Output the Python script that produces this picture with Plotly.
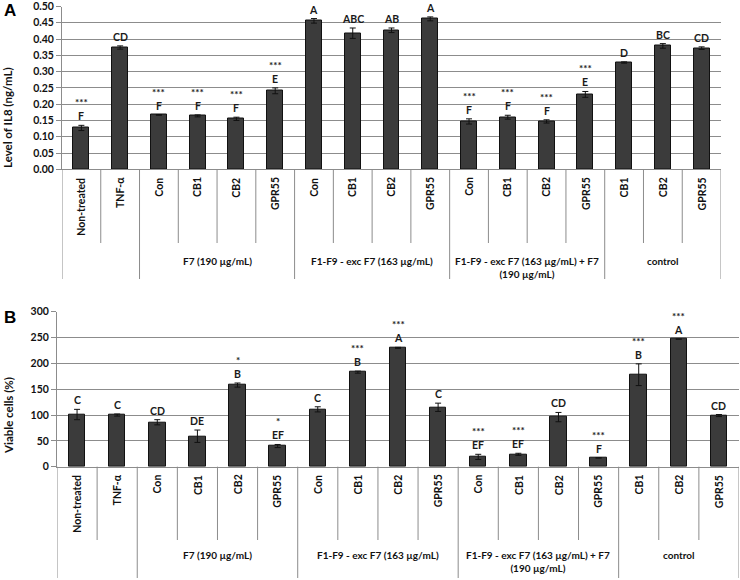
import plotly.graph_objects as go

# categories along both x axes
categories = ["Non-treated", "TNF-α", "Con", "CB1", "CB2", "GPR55",
              "Con", "CB1", "CB2", "GPR55", "Con", "CB1", "CB2", "GPR55",
              "CB1", "CB2", "GPR55"]

group_labels = ["", "F7 (190 µg/mL)", "F1-F9 - exc F7 (163 µg/mL)",
                "F1-F9 - exc F7 (163 µg/mL) + F7<br>(190 µg/mL)", "control"]
group_start  = [0, 2, 6, 10, 14]
group_end    = [1, 5, 9, 13, 16]

# panel A : IL8
il8_mean    = [0.127, 0.374, 0.167, 0.164, 0.155, 0.241, 0.456, 0.418, 0.427, 0.462,
               0.147, 0.160, 0.147, 0.230, 0.328, 0.379, 0.372]
il8_err     = [0.008, 0.005, 0.001, 0.003, 0.005, 0.009, 0.007, 0.016, 0.007, 0.006,
               0.008, 0.006, 0.005, 0.009, 0.002, 0.007, 0.004]
il8_letters = ["F", "CD", "F", "F", "F", "E", "A", "ABC", "AB", "A",
               "F", "F", "F", "E", "D", "BC", "CD"]
il8_stars   = ["***", "", "***", "***", "***", "***", "", "", "", "",
               "***", "***", "***", "***", "", "", ""]

# panel B : viability
via_mean    = [101, 100, 86, 59, 158, 40, 111, 183, 230, 115,
               19, 24, 96, 17, 178, 247, 99]
via_err     = [10, 2, 5, 12, 4, 3, 5, 2, 1, 8,
               5, 2, 9, 0, 21, 0, 2]
via_letters = ["C", "C", "CD", "DE", "B", "EF", "C", "B", "A", "C",
               "EF", "EF", "CD", "F", "B", "A", "CD"]
via_stars   = ["", "", "", "", "*", "*", "", "***", "***", "",
               "***", "***", "", "***", "***", "***", ""]

W, H     = 740, 580
FONT     = "Lato"
BAR      = "#3b3b3b"
GRID     = "#8c8c8c"

def py(px):
    """pixel row -> paper y"""
    return 1 - px / H

panels = [
    dict(x="x",  y="y",  mean=il8_mean, err=il8_err, letters=il8_letters, stars=il8_stars,
         xdom=[62 / W, 721 / W], ydom=[py(169.3), py(6.5)], rng=[0, 0.5], dtick=0.05, fmt=".2f",
         title="Level of IL8 (ng/mL)", title_y=118, tag="A", tag_y=10,
         inner=243, outer=279, grp_y=253),
    dict(x="x2", y="y2", mean=via_mean, err=via_err, letters=via_letters, stars=via_stars,
         xdom=[57 / W, 739 / W], ydom=[py(466.7), py(311.7)], rng=[0, 300], dtick=50, fmt="d",
         title="Viable cells (%)", title_y=416, tag="B", tag_y=317,
         inner=540, outer=578, grp_y=547),
]

fig = go.Figure()
annotations = []
shapes = []
xs = list(range(len(categories)))

for k, p in enumerate(panels):
    fig.add_trace(go.Bar(x=xs, y=p["mean"], xaxis=p["x"], yaxis=p["y"],
                         width=0.41,
                         marker=dict(color=BAR, line=dict(color="#111111", width=1)),
                         error_y=dict(type="data", array=p["err"], color="#111111",
                                      thickness=1, width=3),
                         showlegend=False))

    axis_suffix = "" if k == 0 else "2"
    fig.update_layout(**{
        f"xaxis{axis_suffix}": dict(domain=p["xdom"], range=[-0.5, 16.5], showgrid=False,
                                    showticklabels=False, zeroline=False, showline=True,
                                    linecolor=GRID, linewidth=1, ticks="",
                                    automargin=False, anchor=p["y"]),
        f"yaxis{axis_suffix}": dict(domain=p["ydom"], range=p["rng"], dtick=p["dtick"],
                                    tickformat=p["fmt"], showgrid=True, gridcolor=GRID,
                                    gridwidth=1, zeroline=False, showline=True,
                                    linecolor=GRID, linewidth=1, ticks="outside",
                                    ticklen=5, tickcolor=GRID, automargin=False,
                                    ticklabeloverflow="allow",
                                    tickfont=dict(family=FONT, size=10.5, color="#111111",
                                                  weight="bold"),
                                    anchor=p["x"]),
    })

    xref = p["x"]
    bottom = p["ydom"][0]

    # letters and significance stars
    for i in xs:
        top = p["mean"][i] + p["err"][i]
        annotations.append(dict(x=i, y=top, xref=xref, yref=p["y"], text=p["letters"][i],
                                showarrow=False, yanchor="bottom", yshift=1,
                                font=dict(family=FONT, size=10.5, color="#1a1a1a",
                                          weight="bold")))
        if p["stars"][i]:
            annotations.append(dict(x=i, y=top, xref=xref, yref=p["y"], text=p["stars"][i],
                                    showarrow=False, yanchor="bottom", yshift=15,
                                    font=dict(family=FONT, size=10, color="#222222",
                                              weight="bold")))
        # rotated category label
        annotations.append(dict(x=i, y=bottom, xref=xref, yref="paper", text=categories[i],
                                showarrow=False, textangle=-90, yanchor="top", yshift=-6,
                                font=dict(family=FONT, size=10.5, color="#111111",
                                          weight="bold")))

    # separators below the axis
    group_edges = [g - 0.5 for g in group_start] + [group_end[-1] + 0.5]
    for b in range(len(categories) + 1):
        edge = b - 0.5
        lower = p["outer"] if edge in group_edges else p["inner"]
        shapes.append(dict(type="line", xref=xref, yref="paper", x0=edge, x1=edge,
                           y0=bottom, y1=py(lower), line=dict(color=GRID, width=1)))

    # group labels
    for lab, s, e in zip(group_labels, group_start, group_end):
        if not lab:
            continue
        annotations.append(dict(x=(s + e) / 2, y=py(p["grp_y"]), xref=xref, yref="paper",
                                text=lab, showarrow=False, yanchor="top",
                                font=dict(family=FONT, size=10, color="#111111",
                                          weight="bold")))

    # axis title and panel tag
    annotations.append(dict(x=8 / W, y=py(p["title_y"]), xref="paper", yref="paper",
                            text=p["title"], showarrow=False, textangle=-90,
                            xanchor="center", yanchor="middle",
                            font=dict(family=FONT, size=11.5, color="#111111", weight="bold")))
    annotations.append(dict(x=2 / W, y=py(p["tag_y"]), xref="paper", yref="paper",
                            text=p["tag"], showarrow=False, xanchor="left", yanchor="middle",
                            font=dict(family="Liberation Sans", size=17, color="#000000",
                                      weight="bold")))

fig.update_layout(width=W, height=H,
                  margin=dict(l=0, r=0, t=0, b=0, pad=0, autoexpand=False),
                  plot_bgcolor="white", paper_bgcolor="white",
                  annotations=annotations, shapes=shapes, bargap=0)

# the page body has a default 8px margin; drop it so the figure sits at the corner
fig.write_html("out.html", config={"displayModeBar": False},
               post_script="document.body.style.margin='0';document.body.style.overflow='hidden';")
